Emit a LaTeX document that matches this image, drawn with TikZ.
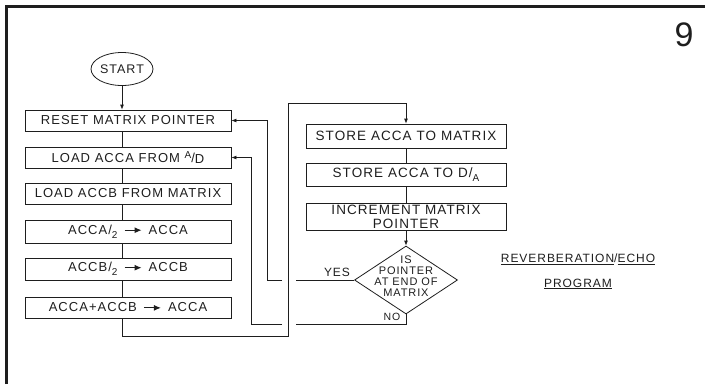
\documentclass[tikz,border=0pt]{standalone}
\usepackage{fontspec}
\setmainfont{Liberation Sans}
\newfontfamily\hand{Liberation Sans}[LetterSpace=8]
\usetikzlibrary{arrows.meta, positioning, shapes.geometric, calc}
\definecolor{ink}{HTML}{1E1E1E}
\newcommand{\upfr}[2]{\raisebox{0.55ex}{\fontsize{10}{10}\selectfont #1}/\raisebox{-0.1ex}{#2}}
\newcommand{\dnfr}[2]{#1/\raisebox{-0.55ex}{\fontsize{10}{10}\selectfont #2}}
\newcommand{\toarr}{\enspace\tikz[baseline=-0.6ex]\draw[draw=ink, line width=1.1pt, -{Latex[length=7pt,width=6pt]}] (0,0) -- (17pt,0);\enspace}
\tikzset{
  every picture/.style={line width=0.8pt},
  stepbox/.style={draw=ink, minimum width=#1, minimum height=21pt, inner sep=0pt, text=ink, font=\hand\fontsize{13}{14}\selectfont},
  arrow/.style={-{Latex[length=5pt,width=4pt]}, draw=ink},
  line/.style={draw=ink},
  note/.style={font=\hand\fontsize{11}{11}\selectfont, text=ink, align=center},
}
\begin{document}
\begin{tikzpicture}[x=1pt, y=-1pt,
  rbox/.style={stepbox=200pt, align=center, font=\hand\fontsize{13.5}{14}\selectfont}]
  \useasboundingbox (0,0) rectangle (705,384);
  \draw[ink, line width=3pt] (6.5,384) -- (6.5,6.5) -- (705,6.5);
  \node[text=ink, font=\fontsize{34}{36}\selectfont] (pg) at (684,35) {9};

  \node[draw=ink, ellipse, minimum width=60pt, minimum height=33pt, inner sep=0pt, text=ink, font=\hand\fontsize{12.5}{13}\selectfont] (start) at (122,69) {START};
  \foreach \n/\y/\h/\t in {
     b1/120.5/21/{RESET MATRIX POINTER},
     b2/157.5/21/{LOAD ACCA FROM \upfr{A}{D}},
     b3/193.5/21/{LOAD ACCB FROM MATRIX},
     b4/231.5/23/{ACCA\dnfr{}{2}\toarr ACCA},
     b5/269/22/{ACCB\dnfr{}{2}\toarr ACCB},
     b6/307.5/21/{ACCA+ACCB\toarr ACCA}} {
    \node[stepbox=206pt, minimum height=\h pt] (\n) at (128,\y) {\t};
  }
  \draw[arrow] (start) -- (start |- b1.north);
  \foreach \a/\b in {b1/b2, b2/b3, b3/b4, b4/b5, b5/b6}
    \draw[line] (start |- \a.south) -- (start |- \b.north);

  \foreach \n/\y/\h/\t in {
     s1/136/24/{STORE ACCA TO MATRIX},
     s2/174.5/23/{STORE ACCA TO \dnfr{D}{A}},
     s3/216.5/27/{INCREMENT MATRIX\\POINTER}} {
    \node[rbox, minimum height=\h pt] (\n) at (406,\y) {\t};
  }
  \draw[line] (s1) -- (s2);
  \draw[line] (s2) -- (s3);
  \node[draw=ink, diamond, minimum width=103pt, minimum height=68pt, inner sep=0pt] (chk) at (406,280) {};
  \node[note] (chkt) at (406,276) {IS\\POINTER\\AT END OF\\MATRIX};
  \draw[arrow] (s3) -- (chk.north);

  \coordinate (lx) at (288,103);
  \coordinate (ycol) at (267,0);
  \coordinate (ncol) at (251,0);
  \coordinate (nob) at ($(chk.south)+(0,10)$);
  \draw[arrow] (start |- b6.south) -- ++(0,18) -| (lx) -| (s1.north);
  \draw[line] (chk.west) -- ($(chk.west -| lx)+(8,0)$);
  \draw[arrow] ($(chk.west -| lx)+(-6,0)$) -- (chk.west -| ycol) |- (b1.east);
  \draw[line] (chk.south) -- (nob) -- ($(nob -| lx)+(8,0)$);
  \draw[arrow] ($(nob -| lx)+(-6,0)$) -- (nob -| ncol) |- (b2.east);
  \node[note, font=\hand\fontsize{12}{12}\selectfont] (yes) at (337,272) {YES};
  \node[note, anchor=east, font=\hand\fontsize{10.5}{11}\selectfont] (no) at ($(chk.south)+(-2,2)$) {NO};

  \node[note, font=\hand\fontsize{12}{13}\selectfont] (ttl) at (578,259) {\underline{REVERBERATION}/\underline{ECHO}};
  \node[note, font=\hand\fontsize{12}{13}\selectfont] (ttl2) at (578,284) {\underline{PROGRAM}};
\end{tikzpicture}
\end{document}
